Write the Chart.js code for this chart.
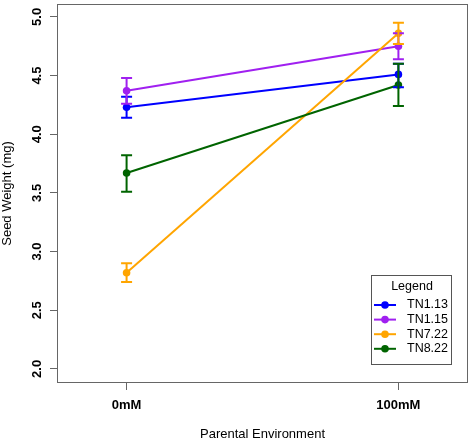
<!DOCTYPE html>
<html lang="en">
<head>
    <meta charset="UTF-8">
    <title>Seed Weight by Parental Environment</title>
    <script src="https://cdn.jsdelivr.net/npm/chart.js"></script>
    <style>
        html, body { margin: 0; padding: 0; background: #fff; }
        .wrap { width: 472px; height: 442px; position: relative; }
    </style>
</head>
<body>
    <div class="wrap">
        <canvas id="seedChart" width="472" height="442"></canvas>
    </div>

    <script>
        // Data
        const categories = ['0mM', '100mM'];
        const seriesNames = ['TN1.13', 'TN1.15', 'TN7.22', 'TN8.22'];
        const seriesColors = ['#0000ff', '#a020f0', '#ffa500', '#006400'];

        const tn113 = [4.23, 4.51];
        const tn115 = [4.37, 4.75];
        const tn722 = [2.82, 4.86];
        const tn822 = [3.67, 4.42];

        // error bar ends (low / high)
        const tn113Low = [4.14, 4.40], tn113High = [4.32, 4.60];
        const tn115Low = [4.26, 4.64], tn115High = [4.48, 4.86];
        const tn722Low = [2.74, 4.77], tn722High = [2.90, 4.95];
        const tn822Low = [3.51, 4.24], tn822High = [3.82, 4.60];

        const yTicks = [2.0, 2.5, 3.0, 3.5, 4.0, 4.5, 5.0];

        const seriesValues = [tn113, tn115, tn722, tn822];
        const seriesLow = [tn113Low, tn115Low, tn722Low, tn822Low];
        const seriesHigh = [tn113High, tn115High, tn722High, tn822High];

        const FONT = '"Liberation Sans", Arial, Helvetica, sans-serif';

        const datasets = seriesNames.map((name, i) => ({
            label: name,
            data: seriesValues[i].map((v, j) => ({ x: j, y: v })),
            borderColor: seriesColors[i],
            backgroundColor: seriesColors[i],
            borderWidth: 2,
            pointRadius: 3.8,
            pointBorderWidth: 0,
            fill: false,
            tension: 0,
            order: seriesNames.length - i,   // later series on top
            errLow: seriesLow[i],
            errHigh: seriesHigh[i]
        }));

        // error bars, box, rotated y labels, legend
        const decorations = {
            id: 'decorations',
            afterDatasetsDraw(chart) {
                const ctx = chart.ctx;
                const xs = chart.scales.x, ys = chart.scales.y;
                chart.data.datasets.forEach(ds => {
                    ctx.save();
                    ctx.strokeStyle = ds.borderColor;
                    ctx.lineWidth = 2;
                    ds.errLow.forEach((lo, j) => {
                        const px = xs.getPixelForValue(j);
                        const y1 = ys.getPixelForValue(lo);
                        const y2 = ys.getPixelForValue(ds.errHigh[j]);
                        ctx.beginPath();
                        ctx.moveTo(px, y1); ctx.lineTo(px, y2);
                        ctx.moveTo(px - 5.5, y1); ctx.lineTo(px + 5.5, y1);
                        ctx.moveTo(px - 5.5, y2); ctx.lineTo(px + 5.5, y2);
                        ctx.stroke();
                    });
                    ctx.restore();
                });
            },
            afterDraw(chart) {
                const ctx = chart.ctx;
                const a = chart.chartArea;
                const ys = chart.scales.y;

                // plot box
                ctx.save();
                ctx.strokeStyle = '#666';
                ctx.lineWidth = 1;
                ctx.strokeRect(a.left + 0.5, a.top + 0.5, a.right - a.left - 1, a.bottom - a.top - 1);
                ctx.restore();

                // rotated y tick labels
                ctx.save();
                ctx.fillStyle = '#000';
                ctx.font = 'bold 13px ' + FONT;
                ctx.textAlign = 'center';
                ctx.textBaseline = 'middle';
                yTicks.forEach(v => {
                    const py = ys.getPixelForValue(v);
                    ctx.save();
                    ctx.translate(37, py);
                    ctx.rotate(-Math.PI / 2);
                    ctx.fillText(v.toFixed(1), 0, 0);
                    ctx.restore();
                });
                ctx.restore();

                // legend box
                const bx = a.right - 97, by = a.bottom - 108, bw = 80, bh = 89;
                ctx.save();
                ctx.fillStyle = '#fff';
                ctx.fillRect(bx, by, bw, bh);
                ctx.strokeStyle = '#555';
                ctx.lineWidth = 1;
                ctx.strokeRect(bx + 0.5, by + 0.5, bw, bh);
                ctx.fillStyle = '#000';
                ctx.font = '12.5px ' + FONT;
                ctx.textAlign = 'center';
                ctx.textBaseline = 'middle';
                ctx.fillText('Legend', bx + bw / 2 + 1, by + 12);
                chart.data.datasets.forEach((ds, i) => {
                    const ly = by + 30 + i * 14.6;
                    ctx.strokeStyle = ds.borderColor;
                    ctx.lineWidth = 2;
                    ctx.beginPath();
                    ctx.moveTo(bx + 3, ly); ctx.lineTo(bx + 25, ly);
                    ctx.stroke();
                    ctx.fillStyle = ds.borderColor;
                    ctx.beginPath();
                    ctx.arc(bx + 14, ly, 3.8, 0, Math.PI * 2);
                    ctx.fill();
                    ctx.fillStyle = '#000';
                    ctx.textAlign = 'left';
                    ctx.fillText(ds.label, bx + 36, ly);
                });
                ctx.restore();
            }
        };

        const config = {
            type: 'line',
            data: { datasets: datasets },
            options: {
                responsive: false,
                animation: false,
                layout: { padding: { top: 2, right: 2, left: 0, bottom: 0 } },
                plugins: {
                    legend: { display: false },
                    tooltip: { enabled: false }
                },
                scales: {
                    x: {
                        type: 'linear',
                        min: -0.256,
                        max: 1.256,
                        afterBuildTicks: s => { s.ticks = categories.map((c, j) => ({ value: j })); },
                        afterFit: s => { s.height = 59; },
                        grid: {
                            drawOnChartArea: false,
                            drawTicks: true,
                            tickLength: 7,
                            color: '#666'
                        },
                        border: { display: false },
                        ticks: {
                            callback: v => categories[v],
                            color: '#000',
                            font: { family: FONT, size: 13, weight: 'bold' },
                            padding: 8,
                            maxRotation: 0
                        },
                        title: {
                            display: true,
                            text: 'Parental Environment',
                            color: '#000',
                            font: { family: FONT, size: 13 },
                            padding: 0
                        }
                    },
                    y: {
                        type: 'linear',
                        min: 1.88,
                        max: 5.11,
                        afterBuildTicks: s => { s.ticks = yTicks.map(v => ({ value: v })); },
                        afterFit: s => { s.width = 57; },
                        grid: {
                            drawOnChartArea: false,
                            drawTicks: true,
                            tickLength: 7,
                            color: '#666'
                        },
                        border: { display: false },
                        ticks: { display: false },
                        title: {
                            display: true,
                            text: 'Seed Weight (mg)',
                            color: '#000',
                            font: { family: FONT, size: 13 },
                            padding: 0
                        }
                    }
                }
            },
            plugins: [decorations]
        };

        const seedChart = new Chart(document.getElementById('seedChart'), config);
    </script>
</body>
</html>
